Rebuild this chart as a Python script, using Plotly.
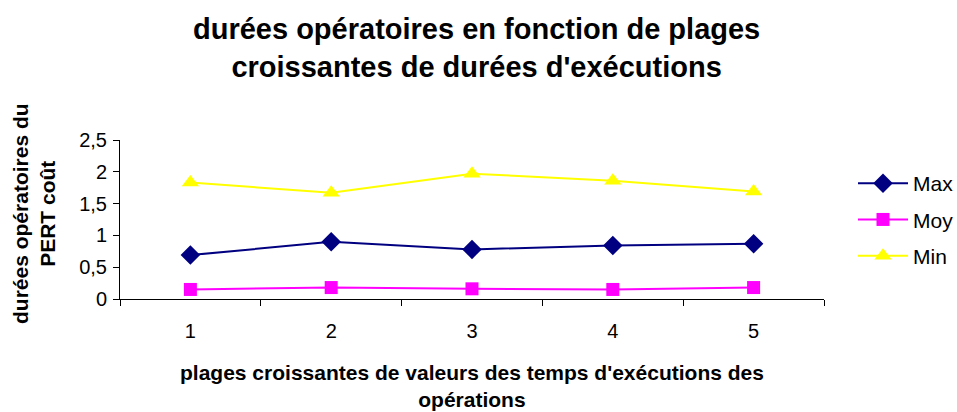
import plotly.graph_objects as go

# Durations per range of execution times
categories = [1, 2, 3, 4, 5]
max_vals = [0.69, 0.90, 0.78, 0.84, 0.87]
moy_vals = [0.15, 0.18, 0.16, 0.15, 0.18]
min_vals = [1.83, 1.67, 1.97, 1.86, 1.69]
y_ticks = [0, 0.5, 1, 1.5, 2, 2.5]
y_tick_labels = ["0", "0,5", "1", "1,5", "2", "2,5"]

FONT = "Liberation Sans, Arial, sans-serif"

fig = go.Figure()
fig.add_trace(go.Scatter(
    x=categories, y=max_vals, name="Max", mode="lines+markers", legendgroup="max",
    line=dict(color="#000080", width=2),
    marker=dict(symbol="diamond", size=15, color="#000080"),
))
fig.add_trace(go.Scatter(
    x=categories, y=moy_vals, name="Moy", mode="lines+markers", legendgroup="moy",
    line=dict(color="#FF00FF", width=2),
    marker=dict(symbol="square", size=13, color="#FF00FF"),
))
fig.add_trace(go.Scatter(
    x=categories, y=min_vals, name="Min", mode="lines+markers", legendgroup="min",
    line=dict(color="#FFFF00", width=2),
    marker=dict(symbol="triangle-up", size=15, color="#FFFF00"),
))

L, R, T, B = 120, 133, 140, 113
W, H = 957, 412
plot_w = W - L - R
plot_h = H - T - B

fig.update_layout(
    width=W, height=H,
    margin=dict(l=L, r=R, t=T, b=B, autoexpand=False),
    paper_bgcolor="white", plot_bgcolor="white",
    font=dict(family=FONT, color="black"),
    showlegend=True,
    legend=dict(x=(853 - L) / plot_w, xanchor="left", y=0.5, yanchor="middle",
                font=dict(size=21, family=FONT), itemwidth=50,
                traceorder="grouped", tracegroupgap=6,
                bgcolor="rgba(0,0,0,0)"),
    xaxis=dict(
        range=[0.5, 5.5], tickvals=categories,
        ticktext=[str(c) for c in categories],
        ticks="", showgrid=False, zeroline=False,
        showline=True, linecolor="black", linewidth=1,
        tickfont=dict(size=20, family=FONT), ticklabelstandoff=14,
        minor=dict(tickvals=[0.5, 1.5, 2.5, 3.5, 4.5, 5.5], ticks="outside",
                   ticklen=6, tickcolor="black", showgrid=False),
    ),
    yaxis=dict(
        range=[0, 2.5], tickvals=y_ticks, ticktext=y_tick_labels,
        ticks="outside", ticklen=6, tickcolor="black",
        showgrid=False, zeroline=False,
        showline=True, linecolor="black", linewidth=1,
        tickfont=dict(size=20, family=FONT), ticklabelstandoff=2,
    ),
    annotations=[
        dict(text="<b>durées opératoires en fonction de plages<br>croissantes de durées d'exécutions</b>",
             xref="paper", yref="paper",
             x=(476 - L) / plot_w, y=(H - B - 48) / plot_h,
             showarrow=False, xanchor="center", yanchor="middle",
             font=dict(size=29, family=FONT)),
        dict(text="<b>plages croissantes de valeurs des temps d'exécutions des<br>opérations</b>",
             xref="paper", yref="paper",
             x=(472 - L) / plot_w, y=-(386 - (H - B)) / plot_h,
             showarrow=False, xanchor="center", yanchor="middle",
             font=dict(size=21, family=FONT)),
        dict(text="<b>durées opératoires du<br>PERT coût</b>",
             xref="paper", yref="paper",
             x=-(L - 34) / plot_w, y=((H - B) - 214) / plot_h,
             showarrow=False, xanchor="center", yanchor="middle", textangle=-90,
             font=dict(size=21, family=FONT)),
    ],
)

fig.write_html("out.html")
